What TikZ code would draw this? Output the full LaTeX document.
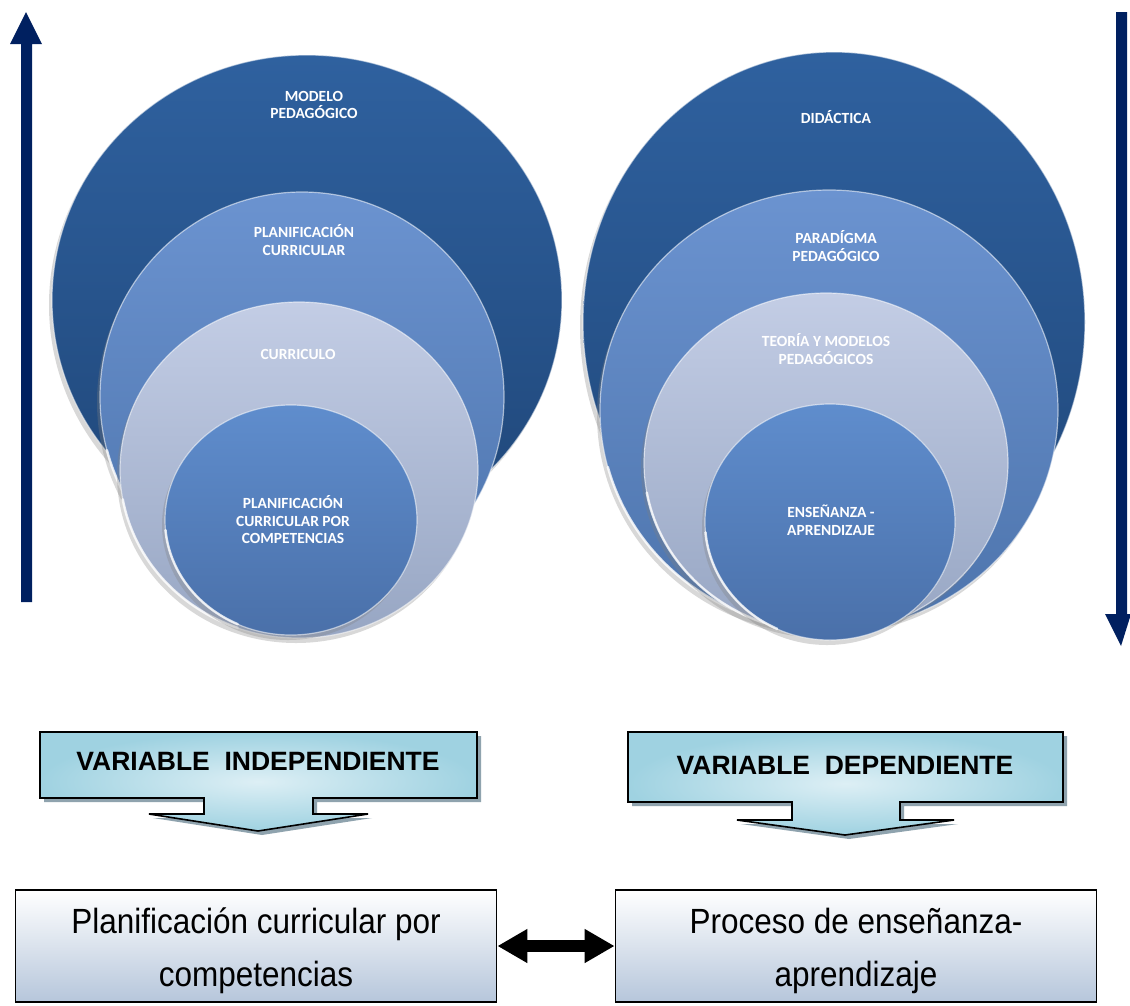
\documentclass[tikz,border=0pt]{standalone}
\usepackage{fontspec}
\setmainfont{Liberation Sans}
\newfontfamily\circfont{Carlito}
\newfontfamily\narrowfont[FakeStretch=0.9]{Liberation Sans}
\usetikzlibrary{shapes.geometric,shadows,arrows.meta}
\definecolor{navy}{HTML}{002060}
\definecolor{dkA}{HTML}{2F619F}
\definecolor{dkB}{HTML}{1F4678}
\definecolor{mdA}{HTML}{6B93D0}
\definecolor{mdB}{HTML}{4D74AC}
\definecolor{ltA}{HTML}{C3CDE5}
\definecolor{ltB}{HTML}{97A6C3}
\definecolor{inA}{HTML}{5F8DCD}
\definecolor{inB}{HTML}{4A70A9}
\definecolor{calA}{HTML}{DDEFF5}
\definecolor{calB}{HTML}{9FD2E1}
\definecolor{calS}{HTML}{8FA3AE}
\definecolor{boxB}{HTML}{B6C6DB}
\tikzset{
  ell/.style={ellipse, inner sep=0pt, draw=white, draw opacity=0.55, line width=1.2pt,
    drop shadow={shadow xshift=-3pt, shadow yshift=-5pt, opacity=0.3}},
  dark/.style={ell, top color=dkA, bottom color=dkB},
  med/.style={ell, top color=mdA, bottom color=mdB},
  light/.style={ell, top color=ltA, bottom color=ltB},
  inner/.style={ell, top color=inA, bottom color=inB},
  gloss/.style={draw=white, draw opacity=0.75, line width=2.5pt, line cap=round},
  ctext/.style={font=\circfont\bfseries\fontsize{15.5}{17.5}\selectfont, text=white, align=center, inner sep=0pt},
  callout/.style={draw=black, line width=1.6pt, inner color=calA, outer color=calB},
  calshadow/.style={fill=calS},
  caltext/.style={font=\bfseries\fontsize{26.5}{30}\selectfont, inner sep=0pt},
  bigbox/.style={draw=black, line width=1.8pt, top color=white, bottom color=boxB,
    minimum width=481pt, minimum height=112pt, inner sep=0pt},
  boxtext/.style={align=center, inner sep=0pt, font=\narrowfont\fontsize{35}{53}\selectfont},
  blockarrow/.style={fill=navy}
}
\begin{document}
\begin{tikzpicture}[x=1pt,y=-1pt]
\useasboundingbox[fill=white] (0,0) rectangle (1130,1005);

% vertical arrows
\fill[blockarrow] (21,602) -- (21,44) -- (10,44) -- (26,12) -- (42,44) -- (32,44) -- (32,602) -- cycle;
\fill[blockarrow] (1116,12) -- (1127,12) -- (1127,614) -- (1131,614) -- (1121,646) -- (1105,614) -- (1116,614) -- cycle;

% left circles
\node[dark, minimum width=510pt, minimum height=490pt] (L1) at (307,300) {};
\node[med, minimum width=404pt, minimum height=410pt] (L2) at (302,397) {};
\draw[gloss] (L2.center) ++(195:202pt and 205pt) arc[start angle=195, end angle=245, x radius=202pt, y radius=205pt];
\node[light, minimum width=358pt, minimum height=336pt] (L3) at (299,470) {};
\draw[gloss] (L3.center) ++(190:179pt and 168pt) arc[start angle=190, end angle=250, x radius=179pt, y radius=168pt];
\node[inner, minimum width=252pt, minimum height=230pt] (L4) at (291,520) {};
\draw[gloss] (L4.center) ++(185:126pt and 115pt) arc[start angle=185, end angle=245, x radius=126pt, y radius=115pt];
\node[ctext] (tL1) at (314,105) {MODELO\\PEDAGÓGICO};
\node[ctext] (tL2) at (304,240) {PLANIFICACIÓN\\CURRICULAR};
\node[ctext] (tL3) at (298,354) {CURRICULO};
\node[ctext] (tL4) at (293,520) {PLANIFICACIÓN\\CURRICULAR POR\\COMPETENCIAS};

% right circles
\node[dark, minimum width=502pt, minimum height=540pt] (R1) at (834,322) {};
\node[med, minimum width=458pt, minimum height=440pt] (R2) at (829,410) {};
\draw[gloss] (R2.center) ++(195:229pt and 220pt) arc[start angle=195, end angle=245, x radius=229pt, y radius=220pt];
\node[light, minimum width=364pt, minimum height=340pt] (R3) at (826,463) {};
\draw[gloss] (R3.center) ++(190:182pt and 170pt) arc[start angle=190, end angle=250, x radius=182pt, y radius=170pt];
\node[inner, minimum width=250pt, minimum height=236pt] (R4) at (830,522) {};
\draw[gloss] (R4.center) ++(185:125pt and 118pt) arc[start angle=185, end angle=245, x radius=125pt, y radius=118pt];
\node[ctext] (tR1) at (836,117) {DIDÁCTICA};
\node[ctext] (tR2) at (836,246) {PARADÍGMA\\PEDAGÓGICO};
\node[ctext] (tR3) at (826,349) {TEORÍA Y MODELOS\\PEDAGÓGICOS};
\node[ctext] (tR4) at (831,520) {ENSEÑANZA -\\APRENDIZAJE};

% callouts
\fill[calshadow, shift={(4,4)}] (40,732) -- (477,732) -- (477,798) -- (313,798) -- (313,814) -- (368,814) -- (258,831) -- (149,814) -- (204,814) -- (204,798) -- (40,798) -- cycle;
\path[callout] (40,732) -- (477,732) -- (477,798) -- (313,798) -- (313,814) -- (368,814) -- (258,831) -- (149,814) -- (204,814) -- (204,798) -- (40,798) -- cycle;
\node[caltext] (V1) at (258,761) {VARIABLE\ \ INDEPENDIENTE};

\fill[calshadow, shift={(4,4)}] (628,732) -- (1063,732) -- (1063,802) -- (900,802) -- (900,820) -- (954,820) -- (845,835) -- (737,820) -- (792,820) -- (792,802) -- (628,802) -- cycle;
\path[callout] (628,732) -- (1063,732) -- (1063,802) -- (900,802) -- (900,820) -- (954,820) -- (845,835) -- (737,820) -- (792,820) -- (792,802) -- (628,802) -- cycle;
\node[caltext] (V2) at (845,765) {VARIABLE\ \ DEPENDIENTE};

% bottom boxes
\node[bigbox] (B1) at (256,946) {};
\node[bigbox] (B2) at (856,946) {};
\node[boxtext] (T1) at (256,951) {Planificación curricular por\\competencias};
\node[boxtext] (T2) at (856,951) {Proceso de enseñanza-\\aprendizaje};
\draw[line width=12pt, {Triangle[width=32pt,length=30pt]}-{Triangle[width=32pt,length=30pt]}] (B1.east) -- (B2.west);
\end{tikzpicture}
\end{document}
